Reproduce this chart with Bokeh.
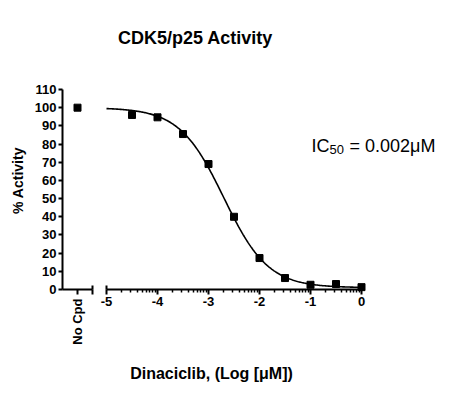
import math
import numpy as np
from bokeh.plotting import figure
from bokeh.models import FixedTicker, CustomJSTickFormatter, Label, Range1d, LinearAxis
from bokeh.embed import file_html
from bokeh.resources import INLINE

# ---------------- data ----------------
log_conc = [-4.5, -4.0, -3.5, -3.0, -2.5, -2.0, -1.5, -1.0, -0.5, 0.0]
activity = [96.0, 94.7, 85.5, 69.0, 40.0, 17.3, 6.3, 2.6, 3.0, 1.3]
no_cpd_label = "No Cpd"
no_cpd_activity = [100.0]

# fitted sigmoidal dose-response (4PL) parameters
fit_top = 100.0
fit_bottom = 1.0
fit_log_ic50 = -2.7
fit_hill = 1.0

y_ticks = [0, 10, 20, 30, 40, 50, 60, 70, 80, 90, 100, 110]
x_ticks = [-5, -4, -3, -2, -1, 0]

title_text = "CDK5/p25 Activity"
x_label = "Dinaciclib, (Log [\u03bcM])"
y_label = "% Activity"
ic50_main = "IC"
ic50_sub = "50"
ic50_rest = "= 0.002\u03bcM"

# ---------------- layout constants ----------------
FONT = "Liberation Sans"
W, H = 451, 399
PX_X = 51.0            # px per log unit
PX_Y = 200.0 / 110.0   # px per % unit
X0_PAGE = 106.0        # page x of log = -5
Y0_PAGE = 289.0        # page y of 0 %

def xdata(px):
    return -5.0 + (px - X0_PAGE) / PX_X

def ydata(py):
    return (Y0_PAGE - py) / PX_Y

no_cpd_x = xdata(77)
break_left = xdata(92)
axis_left = xdata(62)

p = figure(width=W, height=H, output_backend="svg", toolbar_location=None,
           x_range=Range1d(xdata(0), xdata(W)), y_range=Range1d(ydata(H), ydata(0)),
           min_border=0, min_border_left=0, min_border_right=0,
           min_border_top=0, min_border_bottom=0)
p.title = None
p.outline_line_color = None
p.grid.visible = False
p.background_fill_color = "white"
p.border_fill_color = "white"

def style_ticks(ax, size="13px"):
    ax.major_label_text_font = FONT
    ax.major_label_text_font_style = "bold"
    ax.major_label_text_font_size = size
    ax.major_label_text_color = "black"
    ax.axis_line_width = 2
    ax.axis_line_color = "black"
    ax.major_tick_line_width = 2
    ax.major_tick_in = 0

# ---------------- y axis ----------------
ya = p.yaxis[0]
ya.fixed_location = axis_left
ya.bounds = (0, 110)
ya.ticker = FixedTicker(ticks=y_ticks, minor_ticks=[])
style_ticks(ya)
ya.major_tick_out = 4
ya.minor_tick_line_color = None
ya.major_label_standoff = 2

# ---------------- x axis, right part (log concentration) ----------------
minor = []
for d in range(-5, 0):
    for k in range(2, 10):
        minor.append(d + math.log10(k))
xa = p.xaxis[0]
xa.fixed_location = 0
xa.bounds = (-5, 0)
xa.ticker = FixedTicker(ticks=x_ticks, minor_ticks=minor)
xa.formatter = CustomJSTickFormatter(code="return tick.toFixed(0);")
style_ticks(xa)
xa.major_tick_out = 5
xa.minor_tick_line_width = 1.5
xa.minor_tick_out = 3
xa.minor_tick_in = 0
xa.major_label_standoff = 2

# ---------------- x axis, left part (No Cpd) ----------------
xb = LinearAxis(fixed_location=0, bounds=(axis_left, break_left),
                ticker=FixedTicker(ticks=[no_cpd_x, break_left], minor_ticks=[]))
xb.formatter = CustomJSTickFormatter(code="return tick < -5.4 ? '%s' : '';" % no_cpd_label)
style_ticks(xb)
xb.major_tick_out = 5
xb.minor_tick_line_color = None
xb.major_label_orientation = math.pi / 2
xb.major_label_standoff = 4
p.add_layout(xb, "below")

# upward caps at the axis break and at the right end
cap_h = 4 / PX_Y
p.segment(x0=[break_left, -5.0, 0.0], y0=[0, 0, 0],
          x1=[break_left, -5.0, 0.0], y1=[cap_h, cap_h, cap_h],
          line_color="black", line_width=2)

# ---------------- fit curve + points ----------------
xs = np.linspace(-5.0, 0.0, 300)
ys = fit_bottom + (fit_top - fit_bottom) / (1 + 10 ** ((xs - fit_log_ic50) * fit_hill))
p.line(xs, ys, line_color="black", line_width=1.6)
p.scatter(log_conc, activity, marker="square", size=7, color="black")
p.scatter([no_cpd_x], no_cpd_activity, marker="square", size=7, color="black")

# ---------------- text annotations (screen units, page coordinates) ----------------
def label(text, px, py, size, bold=False, align="left", baseline="alphabetic", angle=0.0):
    p.add_layout(Label(x=px, y=H - py, x_units="screen", y_units="screen", text=text,
                       angle=angle, text_font=FONT,
                       text_font_style="bold" if bold else "normal",
                       text_font_size=size, text_align=align, text_baseline=baseline,
                       text_color="black"))

label(title_text, 195, 37, "18px", bold=True, align="center", baseline="middle")
label(y_label, 17, 180, "14px", bold=True, align="center", baseline="middle",
      angle=math.pi / 2)
label(x_label, 211, 373, "16px", bold=True, align="center", baseline="middle")
label(ic50_main, 311, 145, "18px")
label(ic50_sub, 329, 149, "13px")
label(ic50_rest, 349, 145, "18px")

open("out.html", "w").write(file_html(p, INLINE))
